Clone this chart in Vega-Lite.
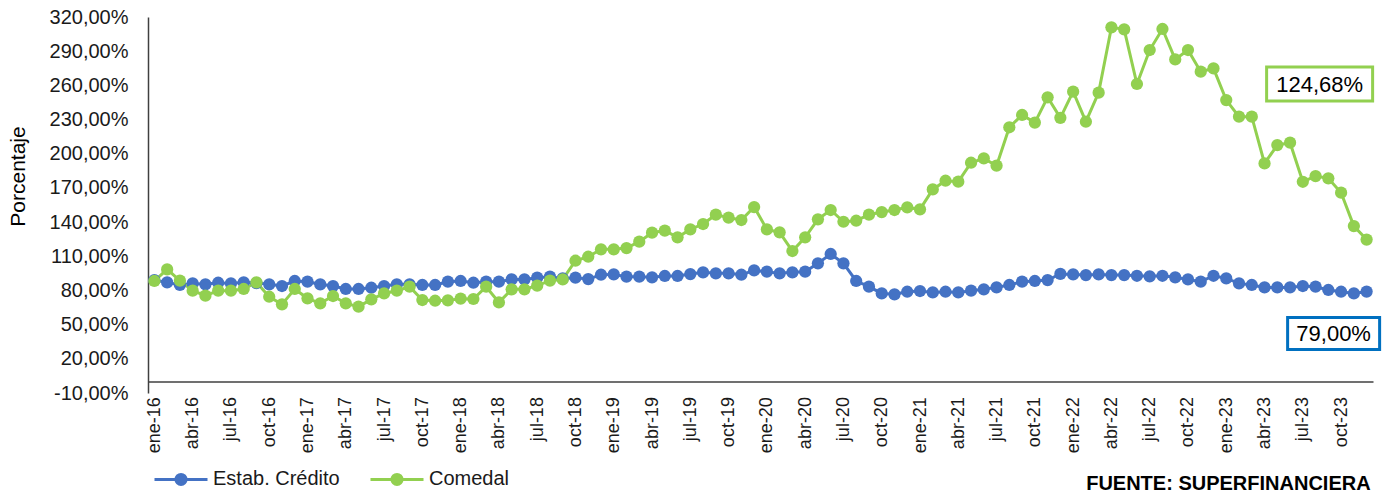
{
  "$schema": "https://vega.github.io/schema/vega-lite/v6.json",
  "autosize": {"type": "none"},
  "width": 1225,
  "height": 376,
  "padding": {"left": 148, "top": 17, "right": 17, "bottom": 100},
  "background": "white",
  "config": {
    "view": {"stroke": null},
    "font": "Liberation Sans",
    "axis": {"labelFont": "Liberation Sans", "titleFont": "Liberation Sans", "labelOverlap": false},
    "legend": {"labelFont": "Liberation Sans"}
  },
  "title": {
    "text": "FUENTE: SUPERFINANCIERA",
    "orient": "bottom",
    "anchor": "end",
    "fontSize": 20,
    "fontWeight": "bold",
    "color": "#000000",
    "offset": 0,
    "dy": -17,
    "dx": -15
  },
  "data": {
    "values": [
      {"mes": "ene-16", "credito": 89.0, "comedal": 88.3},
      {"mes": "feb-16", "credito": 87.1, "comedal": 98.5},
      {"mes": "mar-16", "credito": 84.8, "comedal": 88.6},
      {"mes": "abr-16", "credito": 86.2, "comedal": 79.8},
      {"mes": "may-16", "credito": 85.4, "comedal": 75.4},
      {"mes": "jun-16", "credito": 86.8, "comedal": 79.8},
      {"mes": "jul-16", "credito": 86.2, "comedal": 79.8},
      {"mes": "ago-16", "credito": 87.1, "comedal": 81.3},
      {"mes": "sep-16", "credito": 86.5, "comedal": 87.1},
      {"mes": "oct-16", "credito": 85.4, "comedal": 74.5},
      {"mes": "nov-16", "credito": 83.9, "comedal": 67.8},
      {"mes": "dic-16", "credito": 88.3, "comedal": 81.3},
      {"mes": "ene-17", "credito": 87.7, "comedal": 73.1},
      {"mes": "feb-17", "credito": 85.4, "comedal": 68.7},
      {"mes": "mar-17", "credito": 83.9, "comedal": 75.1},
      {"mes": "abr-17", "credito": 81.3, "comedal": 68.7},
      {"mes": "may-17", "credito": 81.3, "comedal": 65.8},
      {"mes": "jun-17", "credito": 82.4, "comedal": 72.2},
      {"mes": "jul-17", "credito": 83.9, "comedal": 77.4},
      {"mes": "ago-17", "credito": 85.4, "comedal": 79.8},
      {"mes": "sep-17", "credito": 85.4, "comedal": 83.3},
      {"mes": "oct-17", "credito": 84.8, "comedal": 71.6},
      {"mes": "nov-17", "credito": 84.8, "comedal": 71.0},
      {"mes": "dic-17", "credito": 87.7, "comedal": 71.3},
      {"mes": "ene-18", "credito": 88.3, "comedal": 72.8},
      {"mes": "feb-18", "credito": 86.8, "comedal": 72.5},
      {"mes": "mar-18", "credito": 87.7, "comedal": 83.3},
      {"mes": "abr-18", "credito": 87.7, "comedal": 69.5},
      {"mes": "may-18", "credito": 89.7, "comedal": 81.0},
      {"mes": "jun-18", "credito": 89.7, "comedal": 81.0},
      {"mes": "jul-18", "credito": 91.2, "comedal": 84.2},
      {"mes": "ago-18", "credito": 92.1, "comedal": 88.6},
      {"mes": "sep-18", "credito": 90.6, "comedal": 89.7},
      {"mes": "oct-18", "credito": 91.2, "comedal": 106.1},
      {"mes": "nov-18", "credito": 90.0, "comedal": 109.6},
      {"mes": "dic-18", "credito": 93.8, "comedal": 116.1},
      {"mes": "ene-19", "credito": 94.1, "comedal": 116.1},
      {"mes": "feb-19", "credito": 92.1, "comedal": 117.2},
      {"mes": "mar-19", "credito": 92.1, "comedal": 122.8},
      {"mes": "abr-19", "credito": 91.5, "comedal": 130.7},
      {"mes": "may-19", "credito": 92.7, "comedal": 132.5},
      {"mes": "jun-19", "credito": 92.7, "comedal": 126.6},
      {"mes": "jul-19", "credito": 94.4, "comedal": 133.6},
      {"mes": "ago-19", "credito": 95.9, "comedal": 138.3},
      {"mes": "sep-19", "credito": 95.0, "comedal": 146.5},
      {"mes": "oct-19", "credito": 95.0, "comedal": 143.9},
      {"mes": "nov-19", "credito": 93.8, "comedal": 141.8},
      {"mes": "dic-19", "credito": 97.6, "comedal": 153.2},
      {"mes": "ene-20", "credito": 96.5, "comedal": 133.6},
      {"mes": "feb-20", "credito": 95.0, "comedal": 131.0},
      {"mes": "mar-20", "credito": 95.9, "comedal": 114.6},
      {"mes": "abr-20", "credito": 96.5, "comedal": 126.6},
      {"mes": "may-20", "credito": 103.8, "comedal": 142.4},
      {"mes": "jun-20", "credito": 112.0, "comedal": 150.6},
      {"mes": "jul-20", "credito": 103.8, "comedal": 140.3},
      {"mes": "ago-20", "credito": 88.3, "comedal": 141.2},
      {"mes": "sep-20", "credito": 83.3, "comedal": 146.5},
      {"mes": "oct-20", "credito": 77.4, "comedal": 148.8},
      {"mes": "nov-20", "credito": 76.6, "comedal": 150.6},
      {"mes": "dic-20", "credito": 78.9, "comedal": 152.9},
      {"mes": "ene-21", "credito": 79.5, "comedal": 151.2},
      {"mes": "feb-21", "credito": 78.3, "comedal": 168.7},
      {"mes": "mar-21", "credito": 78.9, "comedal": 176.3},
      {"mes": "abr-21", "credito": 78.3, "comedal": 175.5},
      {"mes": "may-21", "credito": 79.8, "comedal": 192.1},
      {"mes": "jun-21", "credito": 81.0, "comedal": 195.9},
      {"mes": "jul-21", "credito": 82.7, "comedal": 189.5},
      {"mes": "ago-21", "credito": 84.8, "comedal": 223.2},
      {"mes": "sep-21", "credito": 87.7, "comedal": 234.0},
      {"mes": "oct-21", "credito": 88.3, "comedal": 227.3},
      {"mes": "nov-21", "credito": 89.1, "comedal": 249.5},
      {"mes": "dic-21", "credito": 94.5, "comedal": 231.5},
      {"mes": "ene-22", "credito": 94.1, "comedal": 254.5},
      {"mes": "feb-22", "credito": 93.5, "comedal": 228.1},
      {"mes": "mar-22", "credito": 94.1, "comedal": 253.6},
      {"mes": "abr-22", "credito": 93.5, "comedal": 310.9},
      {"mes": "may-22", "credito": 93.5, "comedal": 309.2},
      {"mes": "jun-22", "credito": 92.9, "comedal": 261.2},
      {"mes": "jul-22", "credito": 92.4, "comedal": 291.0},
      {"mes": "ago-22", "credito": 92.9, "comedal": 309.5},
      {"mes": "sep-22", "credito": 91.5, "comedal": 282.8},
      {"mes": "oct-22", "credito": 89.7, "comedal": 291.0},
      {"mes": "nov-22", "credito": 87.7, "comedal": 272.0},
      {"mes": "dic-22", "credito": 92.9, "comedal": 274.9},
      {"mes": "ene-23", "credito": 90.6, "comedal": 247.1},
      {"mes": "feb-23", "credito": 86.2, "comedal": 232.5},
      {"mes": "mar-23", "credito": 84.8, "comedal": 232.5},
      {"mes": "abr-23", "credito": 82.7, "comedal": 191.5},
      {"mes": "may-23", "credito": 82.7, "comedal": 207.6},
      {"mes": "jun-23", "credito": 82.7, "comedal": 209.7},
      {"mes": "jul-23", "credito": 83.9, "comedal": 175.4},
      {"mes": "ago-23", "credito": 83.3, "comedal": 180.4},
      {"mes": "sep-23", "credito": 80.4, "comedal": 178.4},
      {"mes": "oct-23", "credito": 78.9, "comedal": 165.8},
      {"mes": "nov-23", "credito": 77.4, "comedal": 136.5},
      {"mes": "dic-23", "credito": 79.0, "comedal": 124.68}
    ]
  },
  "transform": [
    {"fold": ["credito", "comedal"], "as": ["serie", "valor"]},
    {"calculate": "replace(format(datum.valor, '.2f'), '.', ',') + '%'", "as": "etiqueta"}
  ],
  "encoding": {
    "x": {
      "field": "mes",
      "type": "ordinal",
      "sort": null,
      "scale": {"type": "point", "padding": 0.5},
      "axis": {
        "title": null,
        "values": ["ene-16","abr-16","jul-16","oct-16","ene-17","abr-17","jul-17","oct-17","ene-18","abr-18","jul-18","oct-18","ene-19","abr-19","jul-19","oct-19","ene-20","abr-20","jul-20","oct-20","ene-21","abr-21","jul-21","oct-21","ene-22","abr-22","jul-22","oct-22","ene-23","abr-23","jul-23","oct-23"],
        "labelAngle": -90,
        "labelFontSize": 18,
        "labelColor": "#1a1a1a",
        "labelPadding": 15,
        "labelOverlap": false,
        "offset": -11.4,
        "domain": true,
        "domainColor": "#404040",
        "domainWidth": 1.5,
        "ticks": false,
        "grid": false
      }
    },
    "y": {
      "field": "valor",
      "type": "quantitative",
      "scale": {"domain": [-10, 320], "nice": false, "zero": false},
      "axis": {
        "title": "Porcentaje",
        "titleFontSize": 21,
        "titleFontWeight": "normal",
        "titleColor": "#000000",
        "titleAngle": 270,
        "titleAlign": "center",
        "titleBaseline": "middle",
        "titleX": -130,
        "titleY": 159,
        "values": [-10, 20, 50, 80, 110, 140, 170, 200, 230, 260, 290, 320],
        "labelExpr": "datum.value + ',00%'",
        "labelFontSize": 20,
        "labelColor": "#1a1a1a",
        "labelPadding": 20,
        "labelOverlap": false,
        "labelBound": false,
        "labelFlush": false,
        "ticks": false,
        "grid": false,
        "domain": true,
        "domainColor": "#404040",
        "domainWidth": 1.5
      }
    }
  },
  "layer": [
    {
      "mark": {"type": "line", "strokeWidth": 3},
      "encoding": {
        "color": {
          "field": "serie",
          "type": "nominal",
          "scale": {"domain": ["credito", "comedal"], "range": ["#4472C4", "#92D050"]},
          "legend": {
            "title": null,
            "orient": "none",
            "direction": "horizontal",
            "legendX": 5,
            "legendY": 434,
            "labelExpr": "datum.label == 'credito' ? 'Estab. Crédito' : 'Comedal'",
            "symbolType": "M-1,0L1,0M-0.19,0A0.19,0.19,0,1,1,0.19,0A0.19,0.19,0,1,1,-0.19,0Z",
            "symbolSize": 2809,
            "symbolStrokeWidth": 3,
            "labelFontSize": 20,
            "labelColor": "#1a1a1a",
            "labelOffset": 4,
            "columnPadding": 24
          }
        }
      }
    },
    {
      "mark": {"type": "point", "filled": true, "size": 150, "opacity": 1, "shape": "circle"},
      "encoding": {
        "color": {"field": "serie", "type": "nominal"}
      }
    },
    {
      "transform": [{"filter": "datum.mes == 'dic-23' && datum.serie == 'comedal'"}],
      "mark": {
        "type": "point",
        "shape": "M-1,-0.3208H1V0.3208H-1Z",
        "size": 11236,
        "filled": false,
        "fill": "white",
        "fillOpacity": 1,
        "stroke": "#92D050",
        "strokeWidth": 3,
        "opacity": 1,
        "xOffset": -47,
        "yOffset": -155.5
      }
    },
    {
      "transform": [{"filter": "datum.mes == 'dic-23' && datum.serie == 'comedal'"}],
      "mark": {"type": "text", "fontSize": 22, "color": "#000000", "dx": -47, "dy": -155, "align": "center", "baseline": "middle"},
      "encoding": {"text": {"field": "etiqueta"}}
    },
    {
      "transform": [{"filter": "datum.mes == 'dic-23' && datum.serie == 'credito'"}],
      "mark": {
        "type": "point",
        "shape": "M-1,-0.3478H1V0.3478H-1Z",
        "size": 8464,
        "filled": false,
        "fill": "white",
        "fillOpacity": 1,
        "stroke": "#0070C0",
        "strokeWidth": 3,
        "opacity": 1,
        "xOffset": -33,
        "yOffset": 42
      }
    },
    {
      "transform": [{"filter": "datum.mes == 'dic-23' && datum.serie == 'credito'"}],
      "mark": {"type": "text", "fontSize": 22, "color": "#000000", "dx": -33, "dy": 42, "align": "center", "baseline": "middle"},
      "encoding": {"text": {"field": "etiqueta"}}
    }
  ]
}
